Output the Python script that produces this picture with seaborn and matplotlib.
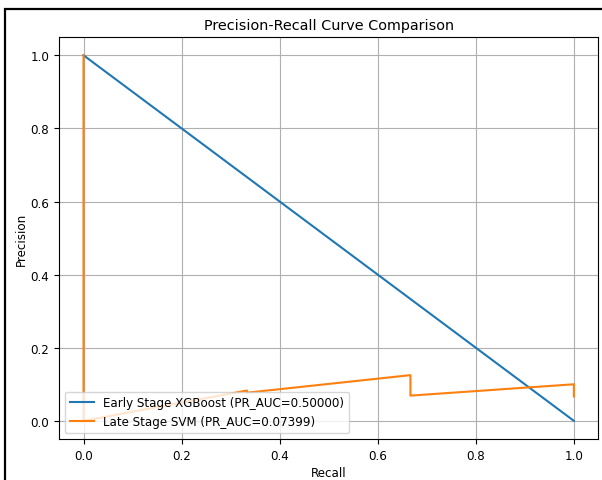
import pandas as pd
import seaborn as sns
import matplotlib.pyplot as plt
from matplotlib.patches import Rectangle

# PR curve points, in the order sklearn returns them (recall descending)
xgb_recall = [1.0, 0.0]
xgb_precision = [0.0, 1.0]
xgb_label = "Early Stage XGBoost (PR_AUC=0.50000)"

svm_recall = [1.0, 1.0, 2/3, 2/3, 1/3, 1/3, 0.0, 0.0]
svm_precision = [0.0667, 0.100, 0.069, 0.125, 0.077, 0.083, 0.0, 1.0]
svm_label = "Late Stage SVM (PR_AUC=0.07399)"

df_xgb = pd.DataFrame({"recall": xgb_recall, "precision": xgb_precision})
df_svm = pd.DataFrame({"recall": svm_recall, "precision": svm_precision})

plt.rcParams["font.size"] = 8.6

fig, ax = plt.subplots(figsize=(6.02, 4.81), dpi=100)
fig.subplots_adjust(left=0.098, right=0.994, top=0.921, bottom=0.085)

sns.lineplot(data=df_xgb, x="recall", y="precision", sort=False, estimator=None,
             color="tab:blue", label=xgb_label, ax=ax)
sns.lineplot(data=df_svm, x="recall", y="precision", sort=False, estimator=None,
             color="tab:orange", label=svm_label, ax=ax)

ax.set_title("Precision-Recall Curve Comparison", fontsize=10.4)
ax.set_xlabel("Recall", labelpad=3)
ax.set_ylabel("Precision", labelpad=2)
ax.grid(True)
ax.legend(loc="lower left")

# screenshot border around the figure (cut off on right and bottom)
fig.patches.append(Rectangle((4.8 / 602, -0.1), 1.2, 1.1 - 9.8 / 481,
                             transform=fig.transFigure, fill=False,
                             edgecolor="black", linewidth=1.6, clip_on=False))

plt.savefig("out.png", dpi=100)
